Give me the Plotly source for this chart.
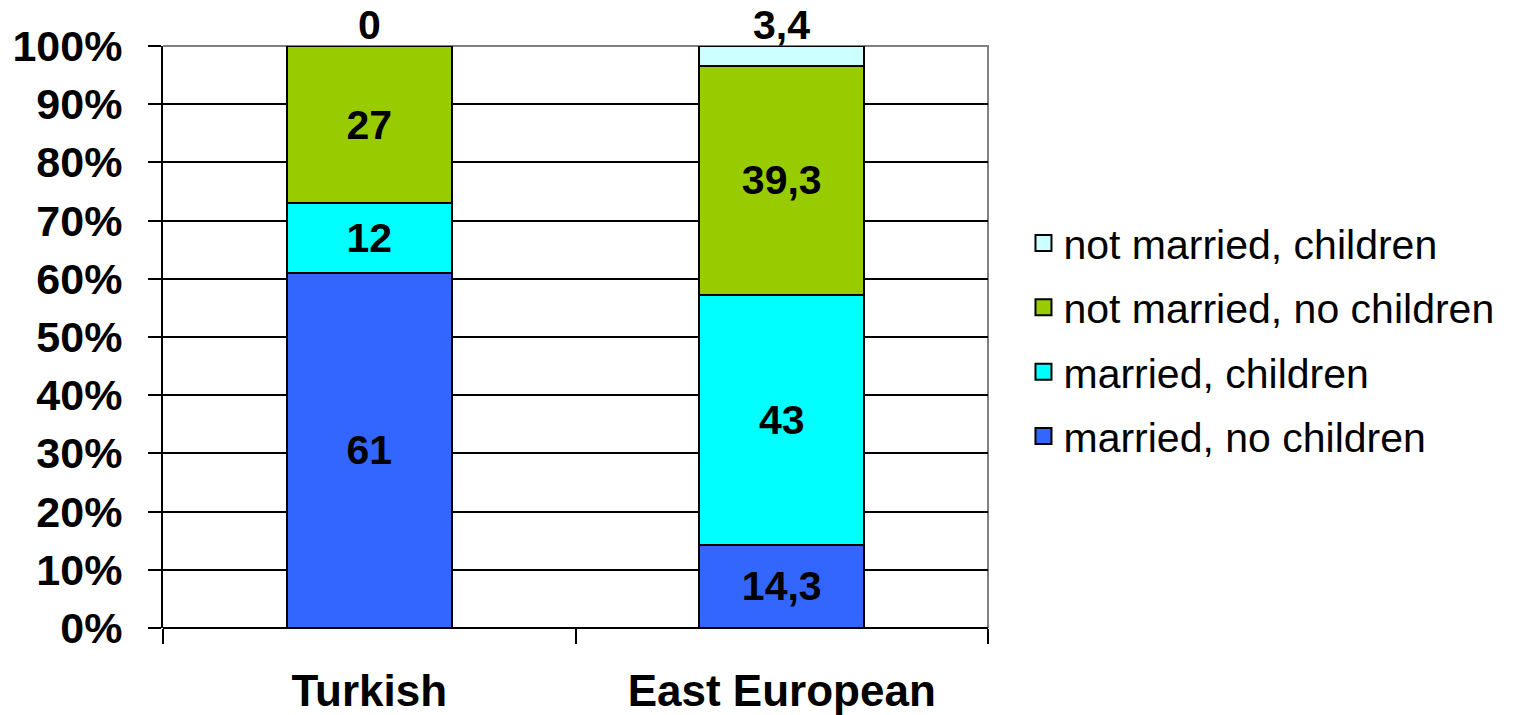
import plotly.graph_objects as go

categories = ["Turkish", "East European"]
series_names = ["married, no children", "married, children",
                "not married, no children", "not married, children"]
married_no_children = [61, 14.3]
married_children = [12, 43]
not_married_no_children = [27, 39.3]
not_married_children = [0, 3.4]
label_married_no_children = ["61", "14,3"]
label_married_children = ["12", "43"]
label_not_married_no_children = ["27", "39,3"]
label_not_married_children = ["0", "3,4"]
colors = ["#3366FF", "#00FFFF", "#99CC00", "#CCFFFF"]
y_ticks = [0, 10, 20, 30, 40, 50, 60, 70, 80, 90, 100]

values = [married_no_children, married_children, not_married_no_children, not_married_children]
labels = [label_married_no_children, label_married_children,
          label_not_married_no_children, label_not_married_children]

FONT = "Liberation Sans, Arial, sans-serif"
VAL_FONT = dict(family=FONT, size=41, color="black", weight="bold")

fig = go.Figure()
for i, (name, vals, txt, col) in enumerate(zip(series_names, values, labels, colors)):
    top = i == len(series_names) - 1
    fig.add_trace(go.Bar(
        x=categories, y=vals, name=name,
        text=None if top else txt,
        textposition="none" if top else "inside",
        insidetextanchor="middle",
        textfont=VAL_FONT, insidetextfont=VAL_FONT,
        marker=dict(color=col, line=dict(color="black", width=2)),
        cliponaxis=False,
        hoverinfo="skip",
        showlegend=False,
    ))

# labels of the top (thin) series sit above the stack
totals = [sum(v[j] for v in values) for j in range(len(categories))]
for cat, tot, txt in zip(categories, totals, label_not_married_children):
    fig.add_annotation(x=cat, y=tot, text=txt, showarrow=False,
                       yanchor="bottom", yshift=-4, font=VAL_FONT)

# legend entries (top series first) with larger square swatches
for name, col in reversed(list(zip(series_names, colors))):
    fig.add_trace(go.Scatter(
        x=[None], y=[None], mode="markers", name=name,
        legendgroup=name,
        marker=dict(symbol="square", size=22, color=col, line=dict(color="black", width=2)),
        hoverinfo="skip",
    ))

fig.update_layout(
    barmode="stack",
    bargap=0.6,
    width=1513, height=715,
    margin=dict(l=163, r=525, t=46, b=87, pad=0),
    plot_bgcolor="white", paper_bgcolor="white",
    font=dict(family=FONT, color="black"),
    showlegend=True,
    legend=dict(
        traceorder="grouped",
        tracegroupgap=8,
        x=1.043, xanchor="left", y=0.495, yanchor="middle",
        font=dict(family=FONT, size=41, color="black"),
        bgcolor="rgba(0,0,0,0)",
        itemclick=False,
        itemsizing="trace",
    ),
    uniformtext=dict(minsize=41, mode="show"),
)

fig.update_yaxes(
    range=[0, 100],
    tickvals=y_ticks,
    ticktext=[f"{v}%" for v in y_ticks],
    tickfont=dict(family=FONT, size=43, color="black", weight="bold"),
    showgrid=True, gridcolor="black", gridwidth=2,
    zeroline=True, zerolinecolor="black", zerolinewidth=2,
    showline=True, linecolor="black", linewidth=2,
    ticks="outside", ticklen=13, tickwidth=2, tickcolor="black",
    ticklabelstandoff=17,
    automargin=False,
)
fig.update_xaxes(
    tickfont=dict(family=FONT, size=44, color="black", weight="bold"),
    showgrid=False,
    showline=False,
    ticks="outside", tickson="boundaries", ticklen=15, tickwidth=2, tickcolor="black",
    ticklabelstandoff=33,
    automargin=False,
)

fig.add_shape(type="path", xref="paper", yref="paper",
              path="M 0,1 L 1,1 L 1,0", line=dict(color="#808080", width=2),
              layer="below")

fig.write_html("out.html")
